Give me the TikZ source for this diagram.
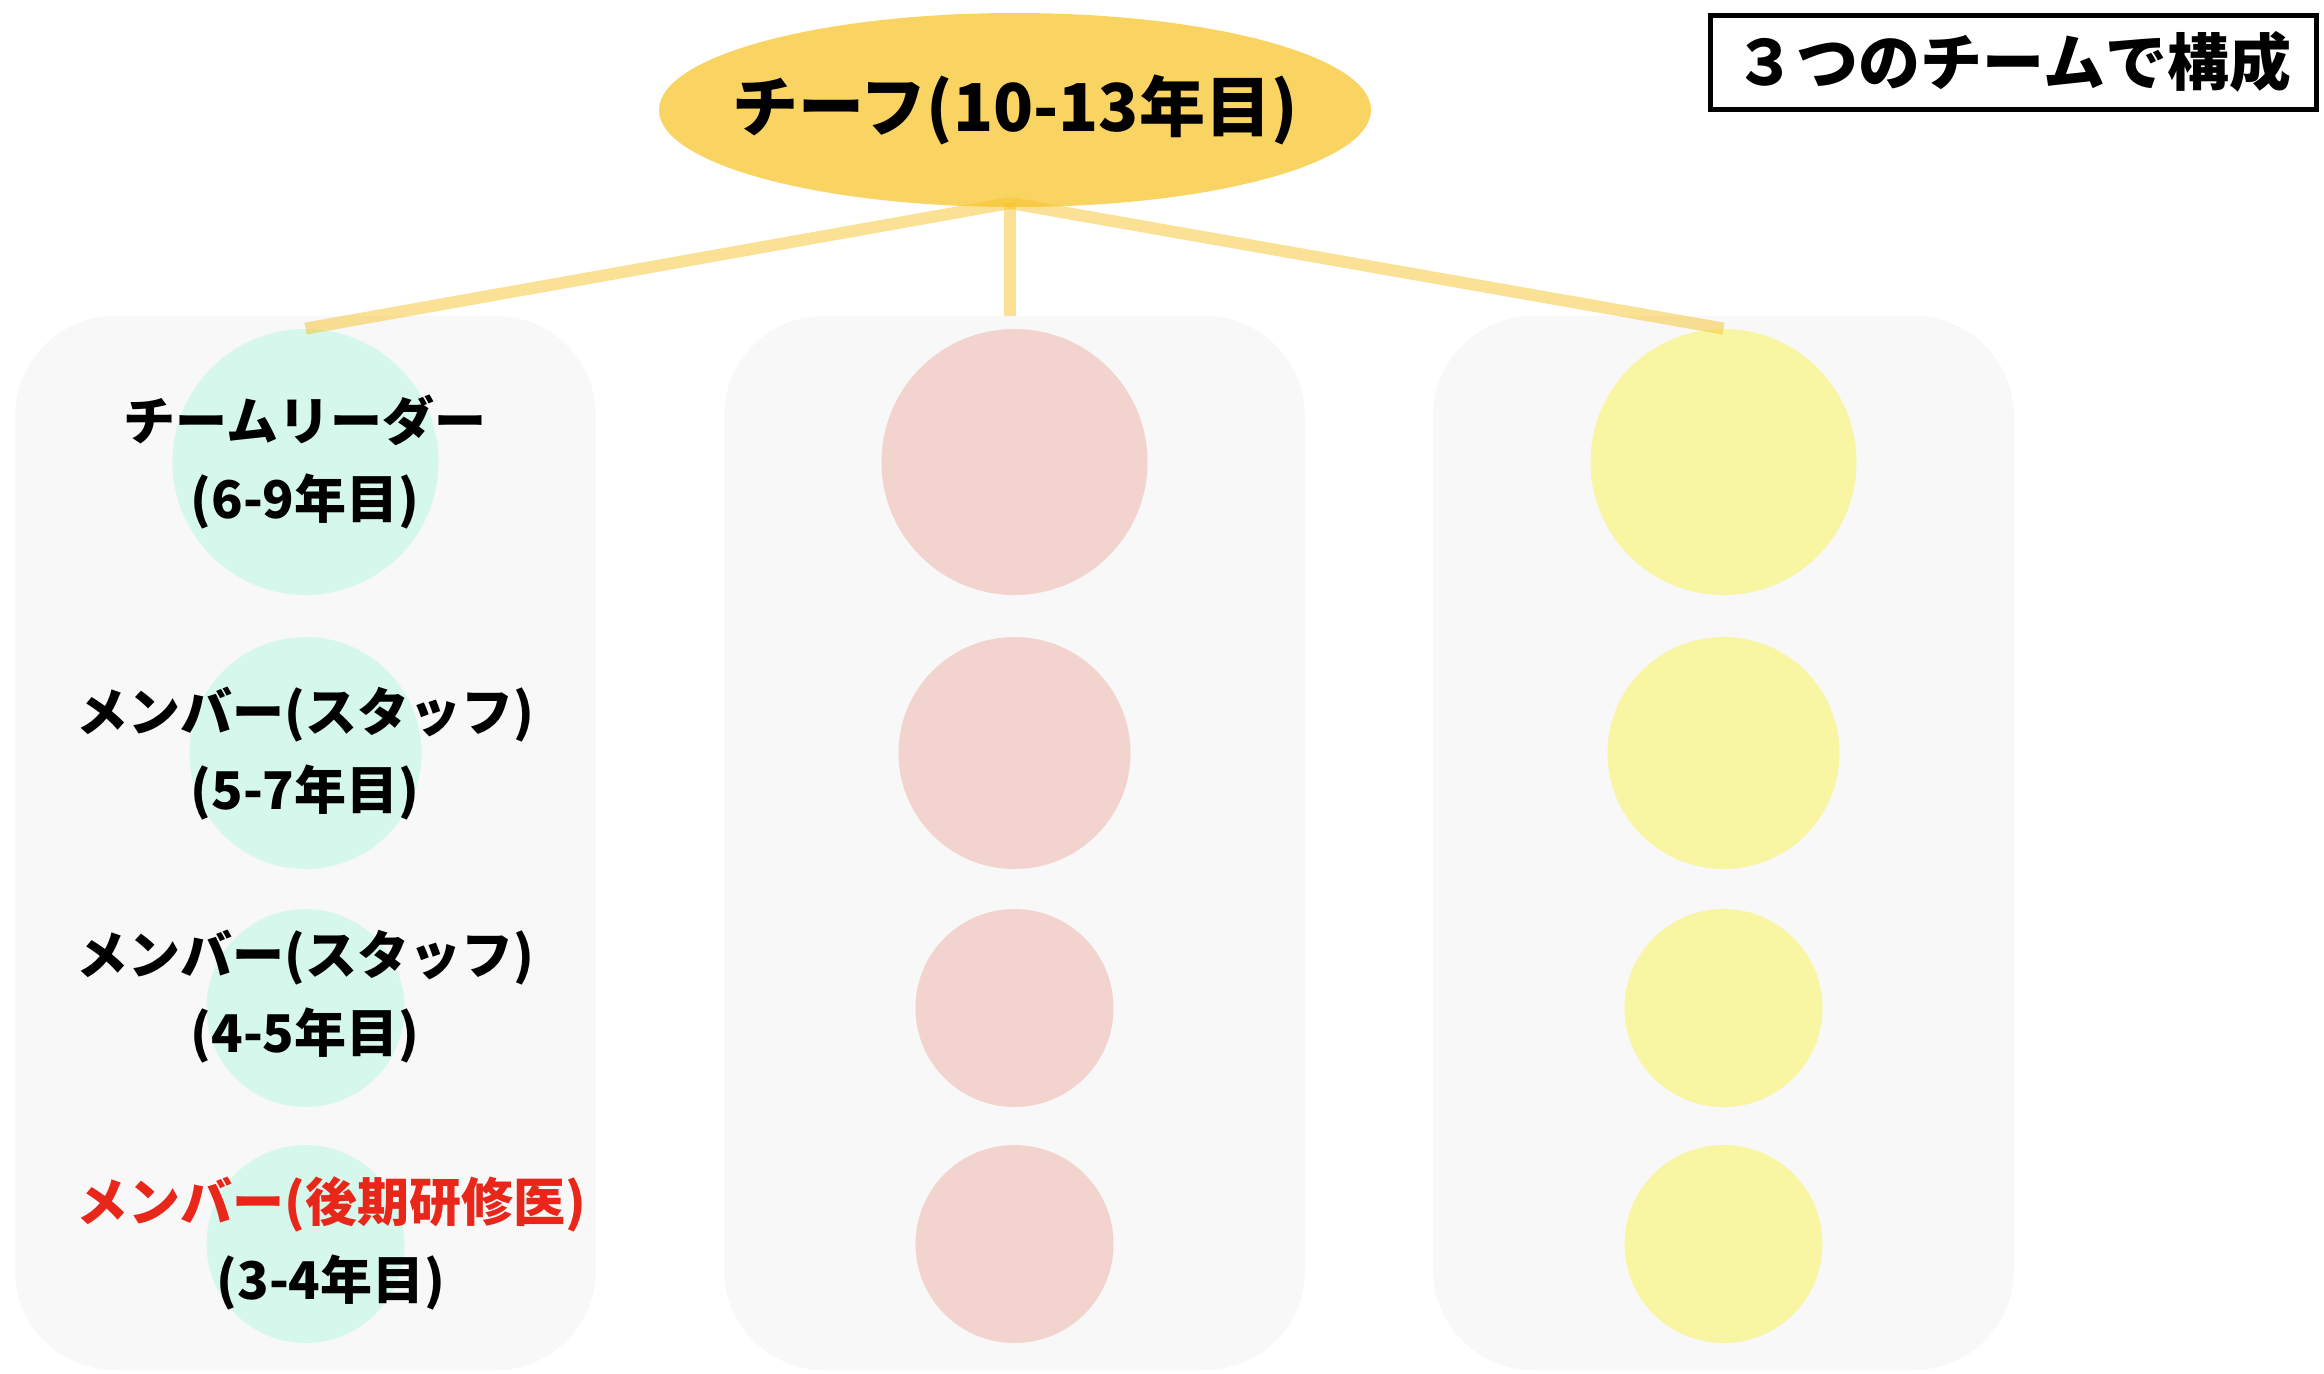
\documentclass[tikz,border=0pt]{standalone}
\usepackage{fontspec}
\setmainfont{Noto Sans CJK JP}
\usetikzlibrary{shapes.geometric}
\definecolor{chiefyellow}{HTML}{F9D462}
\definecolor{linkyellow}{HTML}{F7C42C}
\definecolor{panelgray}{HTML}{F8F8F8}
\definecolor{mint}{HTML}{D5F7EC}
\definecolor{salmon}{HTML}{F3D3CD}
\definecolor{lemon}{HTML}{F8F5A3}
\definecolor{residentred}{HTML}{E8261A}
\newcommand{\RESRED}[1]{\textcolor{residentred}{#1}}
\tikzset{
  panel/.style={rectangle, rounded corners=50pt, fill=panelgray,
    minimum width=290.5pt, minimum height=527pt, inner sep=0pt},
  member/.style={circle, inner sep=0pt, minimum size=#1},
  link/.style={line width=6pt, draw=linkyellow, draw opacity=0.5},
  rolelabel/.style={font=\fontsize{26pt}{39pt}\selectfont\bfseries, align=center},
}

\begin{document}
\begin{tikzpicture}[x=0.5pt, y=-0.5pt]
  \useasboundingbox (0,0) rectangle (2324,1373);

  %% team panels
  \node[panel] (pA) at (305.5,843) {};
  \node[panel] (pB) at (1014.5,843) {};
  \node[panel] (pC) at (1723.5,843) {};

  %% members of each team
  \foreach \t/\x/\c in {a/305.5/mint, b/1014.5/salmon, c/1723.5/lemon}{
    \node[member=133pt, fill=\c] (\t1) at (\x,462) {};
    \node[member=116pt, fill=\c] (\t2) at (\x,753) {};
    \node[member=99pt, fill=\c] (\t3) at (\x,1008) {};
    \node[member=99pt, fill=\c] (\t4) at (\x,1244) {};
  }

  %% chief
  \node[ellipse, fill=chiefyellow, minimum width=356pt, minimum height=97pt,
    inner sep=0pt] (chief) at (1015,110) {};
  \node[font=\fontsize{33pt}{38pt}\selectfont\bfseries] (chieftext) at (chief)
    {チーフ(10-13年目)};
  \coordinate (apex) at (1010,203);

  \draw[link] (apex) -- (a1.north);
  \draw[link] (apex) -- (apex |- pB.north);
  \draw[link] (apex) -- (c1.north);

  %% role labels
  \node[rolelabel] (lab1) at (305,462) {チームリーダー\\(6-9年目)};
  \node[rolelabel] (lab2) at (305,754) {メンバー(スタッフ)\\(5-7年目)};
  \node[rolelabel] (lab3) at (305,997) {メンバー(スタッフ)\\(4-5年目)};
  \node[rolelabel] (lab4) at (331,1243) {\RESRED{メンバー(後期研修医)}\\(3-4年目)};

  %% title box
  \node[draw, line width=2.5pt, minimum width=303pt, minimum height=47pt,
    inner sep=0pt, font=\fontsize{31pt}{36pt}\selectfont\bfseries]
    (title) at (2013,62) {３つのチームで構成};
\end{tikzpicture}
\end{document}
